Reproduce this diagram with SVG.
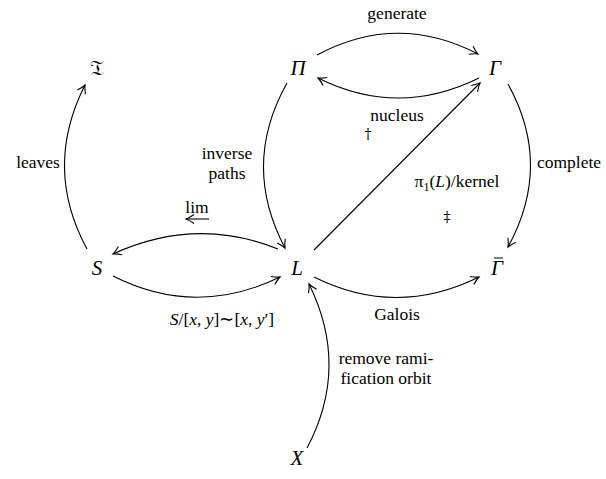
<svg xmlns="http://www.w3.org/2000/svg" width="606" height="479" viewBox="0 0 606 479">
<style>
.n{font-family:'Liberation Serif',serif;font-size:21px;font-style:italic;text-anchor:middle;fill:#000}
.l{font-family:'Liberation Serif',serif;font-size:17.5px;text-anchor:middle;fill:#000}
.d{font-family:'DejaVu Serif',serif;font-size:14px;text-anchor:middle;fill:#000}
.i{font-style:italic}
.e{fill:none;stroke:#000;stroke-width:1.1}
</style>
<defs>
<marker id="ah" markerUnits="userSpaceOnUse" viewBox="-10 -6 12 12" refX="0" refY="0" markerWidth="12" markerHeight="12" orient="auto">
<path d="M-8,-4.5 Q-3,-1 0,0 Q-3,1 -8,4.5" fill="none" stroke="#000" stroke-width="1.1"/>
</marker>
</defs>
<g id="nodes">
<g id="T"><text class="n" x="97" y="75" style="font-style:normal">𝔗</text></g>
<g id="Pi"><text class="n" x="298" y="75">Π</text></g>
<g id="Gamma"><text class="n" x="495" y="75">Γ</text></g>
<g id="S"><text class="n" x="97" y="275">S</text></g>
<g id="L"><text class="n" x="297" y="275">L</text></g>
<g id="Gammabar"><text class="n" x="497" y="275">Γ</text><line x1="494" y1="258" x2="503" y2="258" stroke="#000" stroke-width="1"/></g>
<g id="X"><text class="n" x="297" y="465">X</text></g>
</g>
<g id="connectors">
<path class="e" d="M317,55 Q397,12 478,54" marker-end="url(#ah)"/>
<path class="e" d="M479,78 Q398,118 318,78" marker-end="url(#ah)"/>
<path class="e" d="M314,250 L480,83" marker-end="url(#ah)"/>
<path class="e" d="M287,83 Q241,165 285,248" marker-end="url(#ah)"/>
<path class="e" d="M508,84 Q553,165 508,247" marker-end="url(#ah)"/>
<path class="e" d="M87,249 Q43,168 85,85" marker-end="url(#ah)"/>
<path class="e" d="M278,249 Q196,216 113,254" marker-end="url(#ah)"/>
<path class="e" d="M113,276 Q196,318 280,277" marker-end="url(#ah)"/>
<path class="e" d="M314,277 Q396,318 479,277" marker-end="url(#ah)"/>
<path class="e" d="M307,448 Q350,367 309,284" marker-end="url(#ah)"/>
</g>
<g id="labels">
<text class="l" x="397" y="19">generate</text>
<text class="l" x="397" y="121">nucleus</text>
<text class="d" x="368" y="139">†</text>
<text class="l" x="569" y="168">complete</text>
<text class="l" x="457" y="187">π<tspan font-size="12" dy="4">1</tspan><tspan dy="-4">(</tspan><tspan class="i">L</tspan>)/kernel</text>
<text class="d" x="447" y="222">‡</text>
<text class="l" x="227" y="159">inverse</text>
<text class="l" x="227" y="179">paths</text>
<text class="l" x="38" y="168">leaves</text>
<text class="l" x="197" y="213">lim</text>
<line class="e" x1="209" y1="219" x2="186" y2="219" stroke-width="0.8" marker-end="url(#ah)"/>
<text class="l" x="222" y="325"><tspan class="i">S</tspan>/[<tspan class="i">x</tspan>, <tspan class="i">y</tspan>]∼[<tspan class="i">x</tspan>, <tspan class="i">y</tspan>′]</text>
<text class="l" x="397" y="320">Galois</text>
<text class="l" x="386" y="364">remove rami-</text>
<text class="l" x="386" y="384">fication orbit</text>
</g>
</svg>
